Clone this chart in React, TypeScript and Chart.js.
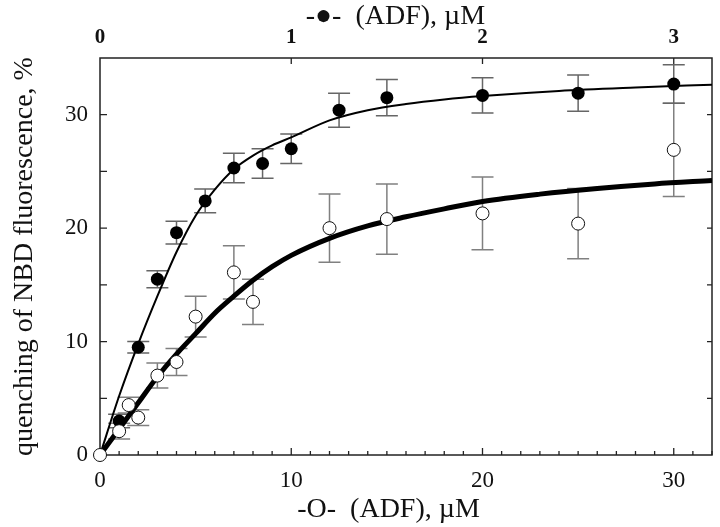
import React, { useEffect, useRef } from "react";
import { Chart, registerables } from "chart.js";

Chart.register(...registerables);

// Filled circles: top axis (ADF), µM
const filledX = [0.1, 0.2, 0.3, 0.4, 0.55, 0.7, 0.85, 1.0, 1.25, 1.5, 2.0, 2.5, 3.0];
const filledY = [3.0, 9.5, 15.5, 19.6, 22.4, 25.3, 25.7, 27.0, 30.4, 31.5, 31.7, 31.9, 32.7];
const filledErr = [0.6, 0.5, 0.75, 1.0, 1.05, 1.3, 1.3, 1.3, 1.5, 1.6, 1.55, 1.6, 1.7];

// Open circles: bottom axis (ADF), µM
const openX = [0, 1, 1.5, 2, 3, 4, 5, 7, 8, 12, 15, 20, 25, 30];
const openY = [0, 2.1, 4.4, 3.3, 7.0, 8.2, 12.2, 16.1, 13.5, 20.0, 20.8, 21.3, 20.4, 26.9];
const openErr = [0, 0.7, 0.7, 0.7, 1.1, 1.2, 1.8, 2.35, 2.0, 3.0, 3.1, 3.2, 3.1, 4.1];

// Fitted curves
const filledCurveX = [0, 0.1, 0.2, 0.3, 0.4, 0.5, 0.6, 0.7, 0.8, 0.9, 1.0, 1.2, 1.4, 1.6, 1.8, 2.0, 2.4, 2.8, 3.2];
const filledCurveY = [0, 5.2, 9.8, 14.0, 17.9, 21.1, 23.4, 25.2, 26.4, 27.3, 28.0, 29.5, 30.4, 30.95, 31.35, 31.65, 32.1, 32.4, 32.65];
const openCurveX = [0, 1, 2, 3, 4, 5, 6, 7, 8, 9, 10, 12, 14, 16, 18, 20, 23, 26, 29, 32];
const openCurveY = [0, 2.3, 4.6, 6.9, 8.9, 10.7, 12.5, 14.0, 15.4, 16.6, 17.6, 19.1, 20.2, 21.0, 21.7, 22.35, 23.0, 23.5, 23.9, 24.2];

// Axis ranges and tick labels
const bottomRange = [0, 32];
const topRange = [0, 3.2];
const yRange = [0, 35];
const bottomTicks = [0, 10, 20, 30];
const topTicks = [0, 1, 2, 3];
const yTicks = [0, 10, 20, 30];

const yTitle = "quenching of NBD fluorescence, %";
const bottomTitle = "-O-  (ADF), \u00B5M";
const topTitle = "-\u25CF-  (ADF), \u00B5M";

const SERIF = "'Liberation Serif', 'Times New Roman', Times, serif";

const toPts = (xs: number[], ys: number[]) => xs.map((x, i) => ({ x, y: ys[i] }));
const fixedTicks = (vals: number[]) => (s: any) => {
  s.ticks = vals.map((value) => ({ value }));
};

const errorBars = {
  id: "errorBars",
  beforeDatasetsDraw(chart: any) {
    const { ctx } = chart;
    chart.data.datasets.forEach((ds: any, i: number) => {
      if (!ds.errors) return;
      const meta = chart.getDatasetMeta(i);
      const ys = chart.scales[ds.yAxisID || "y"];
      ctx.save();
      ctx.strokeStyle = ds.errorColor || "#7a7a7a";
      ctx.lineWidth = 1.5;
      meta.data.forEach((el: any, j: number) => {
        const e = ds.errors[j];
        if (!e) return;
        const v = ds.data[j].y;
        const px = el.x;
        const t = ys.getPixelForValue(v + e);
        const b = ys.getPixelForValue(v - e);
        const cap = 11;
        ctx.beginPath();
        ctx.moveTo(px, t);
        ctx.lineTo(px, b);
        ctx.moveTo(px - cap, t);
        ctx.lineTo(px + cap, t);
        ctx.moveTo(px - cap, b);
        ctx.lineTo(px + cap, b);
        ctx.stroke();
      });
      ctx.restore();
    });
  },
};

const frame = {
  id: "frame",
  beforeDatasetsDraw(chart: any) {
    const { ctx, chartArea: a, scales } = chart;
    ctx.save();
    ctx.strokeStyle = "#222";
    ctx.lineWidth = 1.5;
    ctx.strokeRect(a.left, a.top, a.right - a.left, a.bottom - a.top);
    ctx.lineWidth = 1.3;
    ctx.beginPath();
    // bottom ticks (every 1 unit, longer at labelled values)
    const xs = scales.x;
    for (let v = bottomRange[0]; v <= bottomRange[1]; v += 1) {
      const px = xs.getPixelForValue(v);
      const len = bottomTicks.includes(v) ? 7 : 4;
      ctx.moveTo(px, a.bottom);
      ctx.lineTo(px, a.bottom - len);
    }
    // top ticks
    const xt = scales.x2;
    topTicks.forEach((v) => {
      if (v === 0) return;
      const px = xt.getPixelForValue(v);
      ctx.moveTo(px, a.top);
      ctx.lineTo(px, a.top + 6);
    });
    // left and right ticks every 5
    const yl = scales.y;
    for (let v = 5; v < yRange[1]; v += 5) {
      const py = yl.getPixelForValue(v);
      ctx.moveTo(a.left, py);
      ctx.lineTo(a.left + 7, py);
      ctx.moveTo(a.right, py);
      ctx.lineTo(a.right - 5, py);
    }
    ctx.stroke();
    ctx.restore();
  },
};

export default function App() {
  const ref = useRef<HTMLCanvasElement | null>(null);
  useEffect(() => {
    if (!ref.current) return;
    const tickFont = { family: SERIF, size: 23 };
    const titleFont = { family: SERIF, size: 28 };
    const chart = new Chart(ref.current, {
      type: "scatter",
      data: {
        datasets: [
          {
            label: "open",
            data: toPts(openX, openY),
            xAxisID: "x",
            yAxisID: "y",
            errors: openErr,
            errorColor: "#808080",
            pointRadius: 6.5,
            pointBackgroundColor: "#ffffff",
            pointBorderColor: "#111",
            pointBorderWidth: 1,
            showLine: false,
            clip: false,
          } as any,
          {
            label: "filled",
            data: toPts(filledX, filledY),
            xAxisID: "x2",
            yAxisID: "y",
            errors: filledErr,
            errorColor: "#666",
            pointRadius: 6.5,
            pointBackgroundColor: "#000",
            pointBorderColor: "#000",
            pointBorderWidth: 0,
            showLine: false,
            clip: false,
          } as any,
          {
            label: "open fit",
            data: toPts(openCurveX, openCurveY),
            xAxisID: "x",
            yAxisID: "y",
            showLine: true,
            borderColor: "#000",
            borderWidth: 5,
            pointRadius: 0,
            cubicInterpolationMode: "monotone",
          } as any,
          {
            label: "filled fit",
            data: toPts(filledCurveX, filledCurveY),
            xAxisID: "x2",
            yAxisID: "y",
            showLine: true,
            borderColor: "#000",
            borderWidth: 2,
            pointRadius: 0,
            cubicInterpolationMode: "monotone",
          } as any,
        ],
      },
      options: {
        animation: false,
        responsive: false,
        layout: { padding: 0 },
        plugins: { legend: { display: false }, tooltip: { enabled: false } },
        scales: {
          x: {
            type: "linear",
            position: "bottom",
            min: bottomRange[0],
            max: bottomRange[1],
            grid: { display: false, drawTicks: false },
            border: { display: false },
            afterBuildTicks: fixedTicks(bottomTicks),
            ticks: {
              font: tickFont,
              color: "#111",
              padding: 12,
              maxRotation: 0,
              autoSkip: false,
            },
            title: {
              display: true,
              text: bottomTitle + "\u00A0\u00A0\u00A0\u00A0\u00A0",
              font: titleFont,
              color: "#111",
              padding: { top: 0, bottom: 1 },
            },
            afterFit: (s: any) => {
              s.height = 72;
            },
          },
          x2: {
            type: "linear",
            position: "top",
            min: topRange[0],
            max: topRange[1],
            grid: { display: false, drawTicks: false },
            border: { display: false },
            afterBuildTicks: fixedTicks(topTicks),
            ticks: {
              font: { family: SERIF, size: 21, weight: "bold" },
              color: "#111",
              padding: 8,
              maxRotation: 0,
              autoSkip: false,
            },
            title: {
              display: true,
              text: topTitle + "\u00A0\u00A0\u00A0",
              font: titleFont,
              color: "#111",
              padding: { top: 0, bottom: 0 },
            },
            afterFit: (s: any) => {
              s.height = 58;
            },
          },
          y: {
            type: "linear",
            position: "left",
            min: yRange[0],
            max: yRange[1],
            grid: { display: false, drawTicks: false },
            border: { display: false },
            afterBuildTicks: fixedTicks(yTicks),
            ticks: {
              font: tickFont,
              color: "#111",
              padding: 12,
              autoSkip: false,
            },
            title: {
              display: true,
              text: yTitle,
              font: titleFont,
              color: "#111",
              padding: { top: 8, bottom: 0 },
            },
            afterFit: (s: any) => {
              s.width = 100;
            },
          },
          y2: {
            type: "linear",
            position: "right",
            min: yRange[0],
            max: yRange[1],
            grid: { display: false, drawTicks: false },
            border: { display: false },
            ticks: { display: false },
            afterFit: (s: any) => {
              s.width = 8;
            },
          },
        },
      } as any,
      plugins: [frame, errorBars],
    });
    return () => chart.destroy();
  }, []);
  return (
    <div style={{ position: "absolute", left: 0, top: 0, width: 720, height: 527, background: "#fff" }}>
      <canvas ref={ref} width={720} height={527} style={{ width: 720, height: 527 }} />
    </div>
  );
}
